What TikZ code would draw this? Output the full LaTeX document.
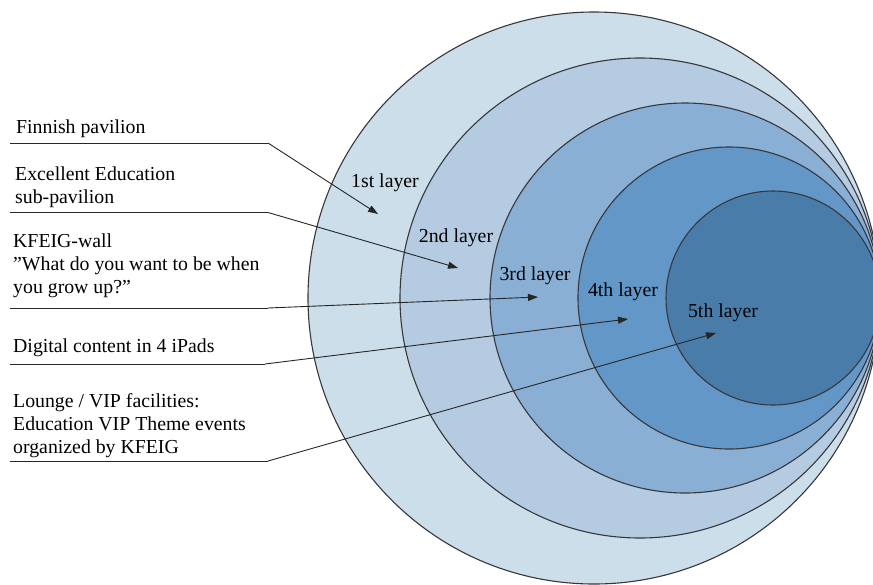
\documentclass[tikz,border=0pt]{standalone}
\usepackage{fontspec}
\setmainfont{Liberation Serif}
\usetikzlibrary{arrows.meta}
\definecolor{layA}{RGB}{204,222,234}
\definecolor{layB}{RGB}{180,203,226}
\definecolor{layC}{RGB}{138,175,213}
\definecolor{layD}{RGB}{98,151,200}
\definecolor{layE}{RGB}{74,124,170}
\definecolor{rim}{RGB}{55,55,60}
\begin{document}
\begin{tikzpicture}[x=1pt,y=-1pt,
  ring/.style={draw=rim,line width=1.1pt},
  lbl/.style={anchor=base west,inner sep=0pt,align=left,font=\fontsize{19.8}{22.6}\selectfont},
  lay/.style={inner sep=0pt,font=\fontsize{19.8}{23}\selectfont},
  lead/.style={draw=black!85,line width=0.9pt},
  pointer/.style={lead,-{Triangle[length=10pt,width=7pt]}}]
\useasboundingbox (0,0) rectangle (873,584);
\begin{scope}
\clip (0,0) rectangle (873,584);
\fill[layA] (594,298) circle[radius=286pt];
\draw[ring] (594,298) circle[radius=286pt];
\fill[layB] (640,298) circle[radius=240pt];
\draw[ring] (640,298) circle[radius=240pt];
\fill[layC] (685,298) circle[radius=195pt];
\draw[ring] (685,298) circle[radius=195pt];
\fill[layD] (729,298) circle[radius=151pt];
\draw[ring] (729,298) circle[radius=151pt];
\fill[layE] (773,298) circle[radius=107pt];
\draw[ring] (773,298) circle[radius=107pt];
\end{scope}
% layer labels
\node[lay] (l1) at (385,183) {1st layer};
\node[lay] (l2) at (456,238) {2nd layer};
\node[lay] (l3) at (535,276) {3rd layer};
\node[lay] (l4) at (623,292) {4th layer};
\node[lay] (l5) at (723,313) {5th layer};
% left labels (anchored at the baseline of their last line)
\node[lbl] (t1) at (16,133) {Finnish pavilion};
\node[lbl] (t2) at (15,203.5) {Excellent Education\\sub-pavilion};
\node[lbl] (t3) at (13,293) {KFEIG-wall\\”What do you want to be when\\you grow up?”};
\node[lbl] (t4) at (13,352.5) {Digital content in 4 iPads};
\node[lbl] (t5) at (13,453) {Lounge / VIP facilities:\\Education VIP Theme events\\organized by KFEIG};
% leader coordinates
\coordinate (s1) at (10,143); \coordinate (b1) at (268,143); \coordinate (e1) at (378,214);
\coordinate (s2) at (10,212.5); \coordinate (b2) at (268,212.5); \coordinate (e2) at (458,268);
\coordinate (s3) at (10,308); \coordinate (b3) at (268,308); \coordinate (e3) at (538,297);
\coordinate (s4) at (10,364); \coordinate (b4) at (265,364); \coordinate (e4) at (628,319);
\coordinate (s5) at (10,461); \coordinate (b5) at (268,461); \coordinate (e5) at (716,333);
\draw[lead] (s1) -- (b1); \draw[pointer] (b1) -- (e1);
\draw[lead] (s2) -- (b2); \draw[pointer] (b2) -- (e2);
\draw[lead] (s3) -- (b3); \draw[pointer] (b3) -- (e3);
\draw[lead] (s4) -- (b4); \draw[pointer] (b4) -- (e4);
\draw[lead] (s5) -- (b5); \draw[pointer] (b5) -- (e5);
\end{tikzpicture}
\end{document}
